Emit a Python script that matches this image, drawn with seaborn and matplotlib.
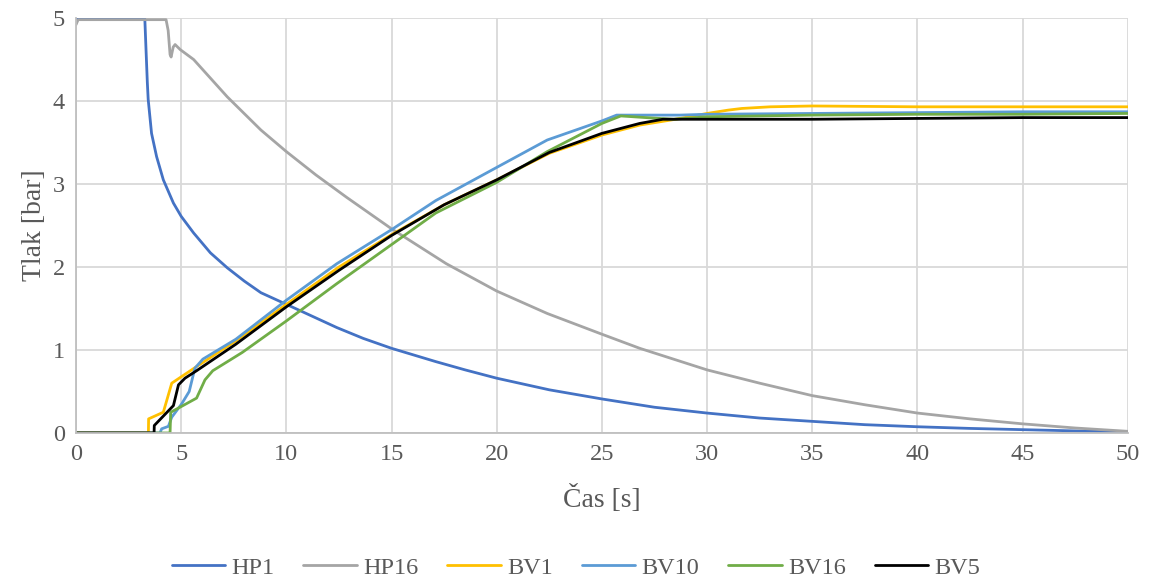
import numpy as np
import pandas as pd
import matplotlib
matplotlib.use("Agg")
import matplotlib.pyplot as plt
import seaborn as sns

# Pressure traces: time [s] and pressure [bar] for each sensor
hp1_t = [0, 3.27, 3.33, 3.39, 3.43, 3.59, 3.83, 4.15, 4.63, 5.0, 5.59, 6.39, 7.19, 8.0, 8.79,
         10, 11.2, 12.4, 13.65, 15, 17.1, 18.5, 20, 22.5, 25, 27.5, 30, 32.5, 35, 37.5, 40,
         42.5, 45, 47.5, 50]
hp1_p = [4.99, 4.99, 4.6, 4.22, 4.02, 3.61, 3.33, 3.05, 2.77, 2.61, 2.41, 2.17, 1.99, 1.83, 1.69,
         1.55, 1.41, 1.27, 1.14, 1.02, 0.86, 0.76, 0.66, 0.52, 0.41, 0.31, 0.24, 0.18, 0.14, 0.10,
         0.075, 0.055, 0.04, 0.025, 0.01]

hp16_t = [0, 0.1, 4.28, 4.38, 4.47, 4.52, 4.62, 4.71, 4.95, 5.59, 7.19, 8.79, 10, 11.4, 12.86,
          15, 17.6, 20, 22.4, 25, 26.8, 30, 32.5, 35, 37.5, 40, 42.5, 45, 47.5, 50]
hp16_p = [4.92, 4.98, 4.98, 4.85, 4.56, 4.53, 4.65, 4.68, 4.62, 4.50, 4.05, 3.65, 3.39, 3.11, 2.84,
          2.46, 2.04, 1.71, 1.44, 1.19, 1.02, 0.76, 0.60, 0.45, 0.34, 0.24, 0.17, 0.11, 0.06, 0.02]

bv1_t = [0, 3.44, 3.45, 4.15, 4.55, 5.02, 5.73, 7.6, 10, 12.5, 15, 17.5, 20, 22.5, 25, 26.8,
         28.5, 30, 31, 31.65, 33, 35, 40, 45, 50]
bv1_p = [0, 0, 0.17, 0.25, 0.60, 0.68, 0.80, 1.11, 1.55, 2.0, 2.39, 2.75, 3.05, 3.37, 3.59, 3.71,
         3.78, 3.85, 3.89, 3.91, 3.93, 3.94, 3.93, 3.93, 3.93]

bv10_t = [0, 3.99, 4.07, 4.39, 4.55, 5.02, 5.38, 5.65, 6.03, 7.6, 10, 12.4, 15, 17.1, 20, 22.4,
          25, 25.7, 28.7, 30, 35, 40, 45, 50]
bv10_p = [0, 0, 0.05, 0.08, 0.19, 0.35, 0.50, 0.78, 0.89, 1.13, 1.60, 2.04, 2.45, 2.80, 3.20, 3.53,
          3.76, 3.83, 3.83, 3.84, 3.85, 3.86, 3.87, 3.87]

bv16_t = [0, 4.47, 4.5, 4.94, 5.73, 6.13, 6.5, 7.9, 10, 12.4, 15, 17.1, 20, 22.4, 25, 25.9,
          27.1, 28.4, 30, 35, 40, 45, 50]
bv16_p = [0, 0, 0.25, 0.31, 0.42, 0.64, 0.75, 0.97, 1.35, 1.80, 2.27, 2.65, 3.02, 3.39, 3.73, 3.82,
          3.80, 3.78, 3.81, 3.83, 3.84, 3.84, 3.85]

bv5_t = [0, 3.71, 3.72, 4.63, 4.87, 5.18, 5.73, 7.6, 10, 12.5, 15, 17.5, 20, 22.5, 25, 26.8,
         27.9, 30, 35, 40, 45, 50]
bv5_p = [0, 0, 0.09, 0.33, 0.58, 0.66, 0.75, 1.07, 1.52, 1.96, 2.38, 2.75, 3.05, 3.38, 3.61, 3.73,
         3.78, 3.78, 3.78, 3.79, 3.80, 3.80]

series_names = ["HP1", "HP16", "BV1", "BV10", "BV16", "BV5"]
series_colors = ["#4472C4", "#A5A5A5", "#FFC000", "#5B9BD5", "#70AD47", "#000000"]

x_ticks = [0, 5, 10, 15, 20, 25, 30, 35, 40, 45, 50]
y_ticks = [0, 1, 2, 3, 4, 5]

traces = {
    "HP1": (hp1_t, hp1_p),
    "HP16": (hp16_t, hp16_p),
    "BV1": (bv1_t, bv1_p),
    "BV10": (bv10_t, bv10_p),
    "BV16": (bv16_t, bv16_p),
    "BV5": (bv5_t, bv5_p),
}
frames = []
for name in series_names:
    t, p = traces[name]
    frames.append(pd.DataFrame({"t": t, "p": p, "senzor": name}))
df = pd.concat(frames, ignore_index=True)

sns.set_theme(style="white")
plt.rcParams["font.family"] = ["Liberation Serif", "DejaVu Serif"]

text_color = "#595959"
grid_color = "#D9D9D9"

fig = plt.figure(figsize=(11.52, 5.77), dpi=100)
ax = fig.add_axes([0.066, 0.2496, 0.913, 0.7192])

sns.lineplot(data=df, x="t", y="p", hue="senzor", hue_order=series_names,
             palette=dict(zip(series_names, series_colors)), estimator=None,
             sort=False, linewidth=2.0, ax=ax, legend=False)

ax.set_xlim(0, 50)
ax.set_ylim(0, 5)
ax.set_xticks(x_ticks)
ax.set_yticks(y_ticks)
ax.grid(True, color=grid_color, linewidth=1.3)
ax.set_axisbelow(True)
for side in ["top", "right"]:
    ax.spines[side].set_visible(False)
for side in ["left", "bottom"]:
    ax.spines[side].set_color("#BFBFBF")
    ax.spines[side].set_linewidth(1.3)
ax.tick_params(axis="both", length=0, labelsize=17.5, colors=text_color, pad=8)
ax.set_xlabel("Čas [s]", fontsize=20, color=text_color, labelpad=14)
ax.set_ylabel("Tlak [bar]", fontsize=20, color=text_color, labelpad=4)

handles = [plt.Line2D([0], [0], color=c, linewidth=2.0) for c in series_colors]
fig.legend(handles, series_names, loc="center", bbox_to_anchor=(0.5, 0.016),
           ncol=6, frameon=False, fontsize=17.5, handlelength=2.2, columnspacing=1.2,
           labelcolor=text_color, handletextpad=0.25)

fig.savefig("out.png", dpi=100)
